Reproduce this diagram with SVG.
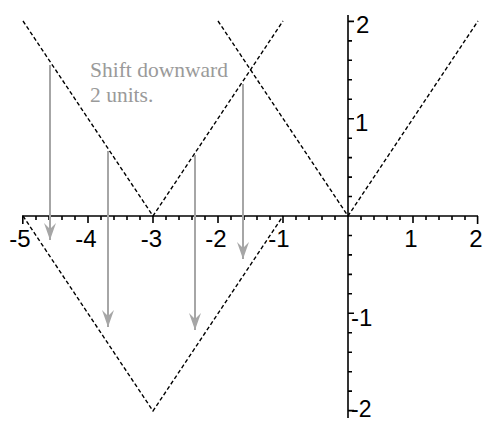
<svg xmlns="http://www.w3.org/2000/svg" width="483" height="421" viewBox="0 0 483 421">
<style>
.axis{stroke:#000;stroke-width:1.6;fill:none}
.tick{stroke:#000;stroke-width:1.6}
.curve{stroke:#000;stroke-width:1.4;fill:none;stroke-dasharray:4 2.5}
.arrow{stroke:#a6a6a6;stroke-width:2;fill:none}
.lbl{font-family:"Liberation Sans",Arial,sans-serif;font-size:24px;fill:#000}
.note{font-family:"Liberation Serif","Times New Roman",serif;font-size:21.5px;fill:#9a9a9a}
</style>
<defs>
<marker id="ah" markerUnits="userSpaceOnUse" markerWidth="20" markerHeight="14" viewBox="-18 -7 20 14" refX="0" refY="0" orient="auto">
<path d="M0,0 L-17,-6 L-11,0 L-17,6 Z" fill="#a6a6a6"/>
</marker>
</defs>
<g id="axes">
<line class="axis" x1="22" y1="216" x2="478" y2="216"/>
<line class="axis" x1="348" y1="15" x2="348" y2="418"/>
<path class="tick" d="M22.8,216v8 M88,216v7 M153,216v7 M218,216v7 M283,216v7 M413,216v7 M477.6,216v8
M36,216v4 M49,216v4 M62,216v4 M75,216v4
M101,216v4 M114,216v4 M127,216v4 M140,216v4
M166,216v4 M179,216v4 M192,216v4 M205,216v4
M231,216v4 M244,216v4 M257,216v4 M270,216v4
M296,216v4 M309,216v4 M322,216v4 M335,216v4
M361,216v4 M374,216v4 M387,216v4 M400,216v4
M426,216v4 M439,216v4 M452,216v4 M465,216v4"/>
<path class="tick" d="M348,21.4h6 M348,118.7h6 M348,313.3h6 M348,410.6h6
M348,40.9h4 M348,60.3h4 M348,79.8h4 M348,99.2h4
M348,138.2h4 M348,157.6h4 M348,177.1h4 M348,196.5h4
M348,235.5h4 M348,254.9h4 M348,274.4h4 M348,293.8h4
M348,332.8h4 M348,352.2h4 M348,371.7h4 M348,391.1h4"/>
<g class="lbl" text-anchor="middle">
<text x="20" y="247">-5</text>
<text x="86" y="247">-4</text>
<text x="151.5" y="247">-3</text>
<text x="216" y="247">-2</text>
<text x="279" y="247">-1</text>
<text x="411" y="247">1</text>
<text x="476" y="247">2</text>
</g>
<g class="lbl">
<text x="356" y="33">2</text>
<text x="355" y="131">1</text>
<text x="351" y="326">-1</text>
<text x="351" y="417" font-size="23">-2</text>
</g>
</g>
<g id="curves">
<polyline id="abs-x" class="curve" points="218,21 348,216 478,21"/>
<polyline id="abs-x-plus-3" class="curve" points="23,21 153,216 283,21"/>
<polyline id="abs-x-plus-3-minus-2" class="curve" points="23,216 153,411 283,216"/>
</g>
<g id="connectors">
<line class="arrow" x1="50" y1="65" x2="50" y2="240" marker-end="url(#ah)"/>
<line class="arrow" x1="108" y1="151" x2="108" y2="327" marker-end="url(#ah)"/>
<line class="arrow" x1="195" y1="155" x2="195" y2="330" marker-end="url(#ah)"/>
<line class="arrow" x1="243" y1="84" x2="243" y2="259" marker-end="url(#ah)"/>
</g>
<g id="note">
<text class="note" x="90" y="77">Shift downward</text>
<text class="note" x="90" y="102">2 units.</text>
</g>
</svg>
